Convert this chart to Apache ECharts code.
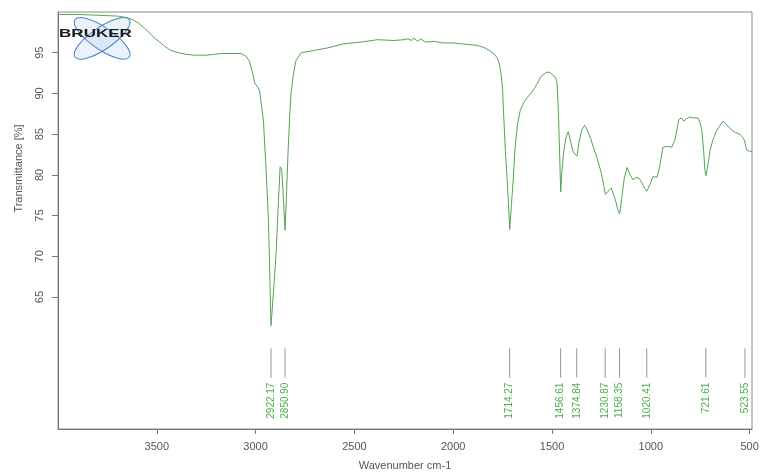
<!DOCTYPE html>
<html>
<head>
<meta charset="utf-8">
<script src="https://cdn.jsdelivr.net/npm/echarts@6/dist/echarts.min.js"></script>
<style>
html,body{margin:0;padding:0;background:#fff;}
#chart{width:762px;height:476px;}
</style>
</head>
<body>
<div id="chart"></div>
<script>
// Spectrum: wavenumber (cm-1) and transmittance (%)
var wavenumbers = [4000,3900,3800,3700,3650,3618,3590,3562,3535,3512,3485,3461,3430,3391,3350,3310,3250,3174,3120,3073,3050,3032,3015,3005,2990,2980,2970,2960,2947,2935,2922,2910,2896,2885,2876,2868,2860,2851,2843,2836,2828,2821,2808,2796,2770,2720,2634,2553,2468,2382,2301,2250,2230,2210,2200,2180,2165,2155,2140,2130,2099,2049,2000,1963,1920,1877,1840,1812,1790,1776,1765,1756,1750,1745,1736,1726,1714,1705,1696,1688,1675,1660,1640,1625,1595,1575,1559,1540,1524,1510,1499,1484,1475,1468,1462,1456,1450,1440,1430,1418,1405,1393,1385,1374,1363,1350,1335,1322,1305,1292,1275,1257,1245,1230,1215,1200,1191,1180,1168,1158,1148,1135,1120,1105,1090,1075,1060,1045,1030,1020,1005,989,969,955,939,915,894,878,858,845,833,820,803,785,762,752,742,733,726,721,714,700,687,670,651,635,626,610,591,570,550,535,525,520,513,500,488];
var transmittance = [99.7,99.7,99.6,99.5,99.3,99.0,98.6,98.0,97.4,96.8,96.3,95.8,95.3,95.0,94.8,94.7,94.7,94.9,94.9,94.9,94.6,94.0,92.5,91.3,90.8,90.4,88.5,86.5,80.6,74.5,61.5,65.5,70.5,76.5,81.0,80.7,77.5,73.2,78.0,82.7,87.0,90.0,92.5,94.0,95.0,95.2,95.6,96.1,96.3,96.6,96.5,96.6,96.7,96.5,96.8,96.4,96.7,96.6,96.3,96.4,96.4,96.2,96.2,96.1,96.0,95.9,95.6,95.2,94.8,94.3,93.5,92.0,90.5,87.5,83.0,79.0,73.3,76.5,79.5,83.0,86.2,88.0,89.0,89.5,90.4,91.2,92.0,92.4,92.6,92.6,92.3,92.0,91.4,88.0,83.0,77.9,80.5,83.0,84.5,85.3,84.0,82.8,83.0,82.3,84.0,85.5,86.1,85.5,84.5,83.5,82.3,80.8,79.6,77.6,78.0,78.4,78.2,77.0,75.8,75.2,77.0,79.5,80.9,80.0,79.4,79.7,79.6,79.0,78.3,78.0,78.8,79.8,79.7,81.0,83.4,83.5,83.4,84.3,86.8,87.0,86.6,86.9,87.1,87.0,87.0,86.5,85.5,83.0,80.5,79.9,80.8,83.0,84.2,85.3,86.0,86.6,86.7,86.0,85.5,85.2,85.0,84.6,84.2,83.5,83.0,82.9,82.9];
// Peak picks
var peakPositions = [2922.17,2850.90,1714.27,1456.61,1374.84,1230.87,1158.35,1020.41,721.61,523.55];
var peakLabels = ['2922.17','2850.90','1714.27','1456.61','1374.84','1230.87','1158.35','1020.41','721.61','523.55'];
// Tick labels
var xTicks = [500,1000,1500,2000,2500,3000,3500];
var yTicks = [65,70,75,80,85,90,95];

var spectrum = wavenumbers.map(function(w,i){return [w, transmittance[i]];});
var peakData = peakPositions.map(function(p){return [p, 55];});

var chart = echarts.init(document.getElementById('chart'), null, {renderer:'canvas'});
var font = 'Liberation Sans, Arial, sans-serif';
chart.setOption({
  animation:false,
  backgroundColor:'#ffffff',
  grid:{left:58,right:10,top:12,bottom:46,show:true,borderColor:'#8a8a8a',borderWidth:1},
  xAxis:{
    type:'value',inverse:true,min:488,max:4000,
    name:'Wavenumber cm-1',nameLocation:'middle',nameGap:31,
    nameTextStyle:{fontFamily:font,fontSize:11,color:'#555'},
    axisLine:{show:true,lineStyle:{color:'#777'}},
    axisTick:{show:true,length:5,customValues:xTicks,lineStyle:{color:'#777'}},
    axisLabel:{customValues:xTicks,fontFamily:font,fontSize:11,color:'#555',margin:12,
      formatter:function(v){return String(v);}},
    splitLine:{show:false}
  },
  yAxis:{
    type:'value',min:48.8,max:100,
    name:'Transmittance [%]',nameLocation:'middle',nameGap:34,
    nameTextStyle:{fontFamily:font,fontSize:11,color:'#555',padding:[0,0,0,104]},
    axisLine:{show:true,lineStyle:{color:'#777'}},
    axisTick:{show:true,length:6,customValues:yTicks,lineStyle:{color:'#777'}},
    axisLabel:{customValues:yTicks,rotate:90,fontFamily:font,fontSize:11,color:'#555',margin:13,
      formatter:function(v){return String(v);}},
    splitLine:{show:false}
  },
  series:[
    {
      type:'line',data:spectrum,showSymbol:false,symbol:'none',
      lineStyle:{color:'#56a356',width:1},
      silent:true,z:3
    },
    {
      type:'custom',data:peakData,encode:{x:0,y:1},silent:true,z:4,
      renderItem:function(params,api){
        var w = api.value(0);
        var a = api.coord([w,58.7]);
        var b = api.coord([w,55.1]);
        var t = api.coord([w,54.5]);
        return {type:'group',children:[
          {type:'line',shape:{x1:a[0],y1:a[1],x2:b[0],y2:b[1]},style:{stroke:'#8c9a8c',lineWidth:1}},
          {type:'text',x:t[0],y:t[1],rotation:Math.PI/2,
           style:{text:peakLabels[params.dataIndex],fill:'#4cae4c',font:'10px '+font,align:'right',verticalAlign:'middle'}}
        ]};
      }
    }
  ],
  graphic:[
    {type:'group',left:68,top:10,z:10,children:[
      {type:'ellipse',shape:{cx:33,cy:23,rx:33,ry:11},rotation:-0.6,originX:33,originY:23,
       style:{fill:'rgba(170,205,240,0.25)',stroke:'#4a84cc',lineWidth:1}},
      {type:'ellipse',shape:{cx:33,cy:23,rx:33,ry:11},rotation:0.6,originX:33,originY:23,
       style:{fill:'rgba(170,205,240,0.25)',stroke:'#4a84cc',lineWidth:1}}
    ]},
    {type:'text',left:59,top:28,z:11,scaleX:1.55,
     style:{text:'BRUKER',font:'bold 11px '+font,fill:'#1a1a1a'}}
  ]
});
</script>
</body>
</html>
